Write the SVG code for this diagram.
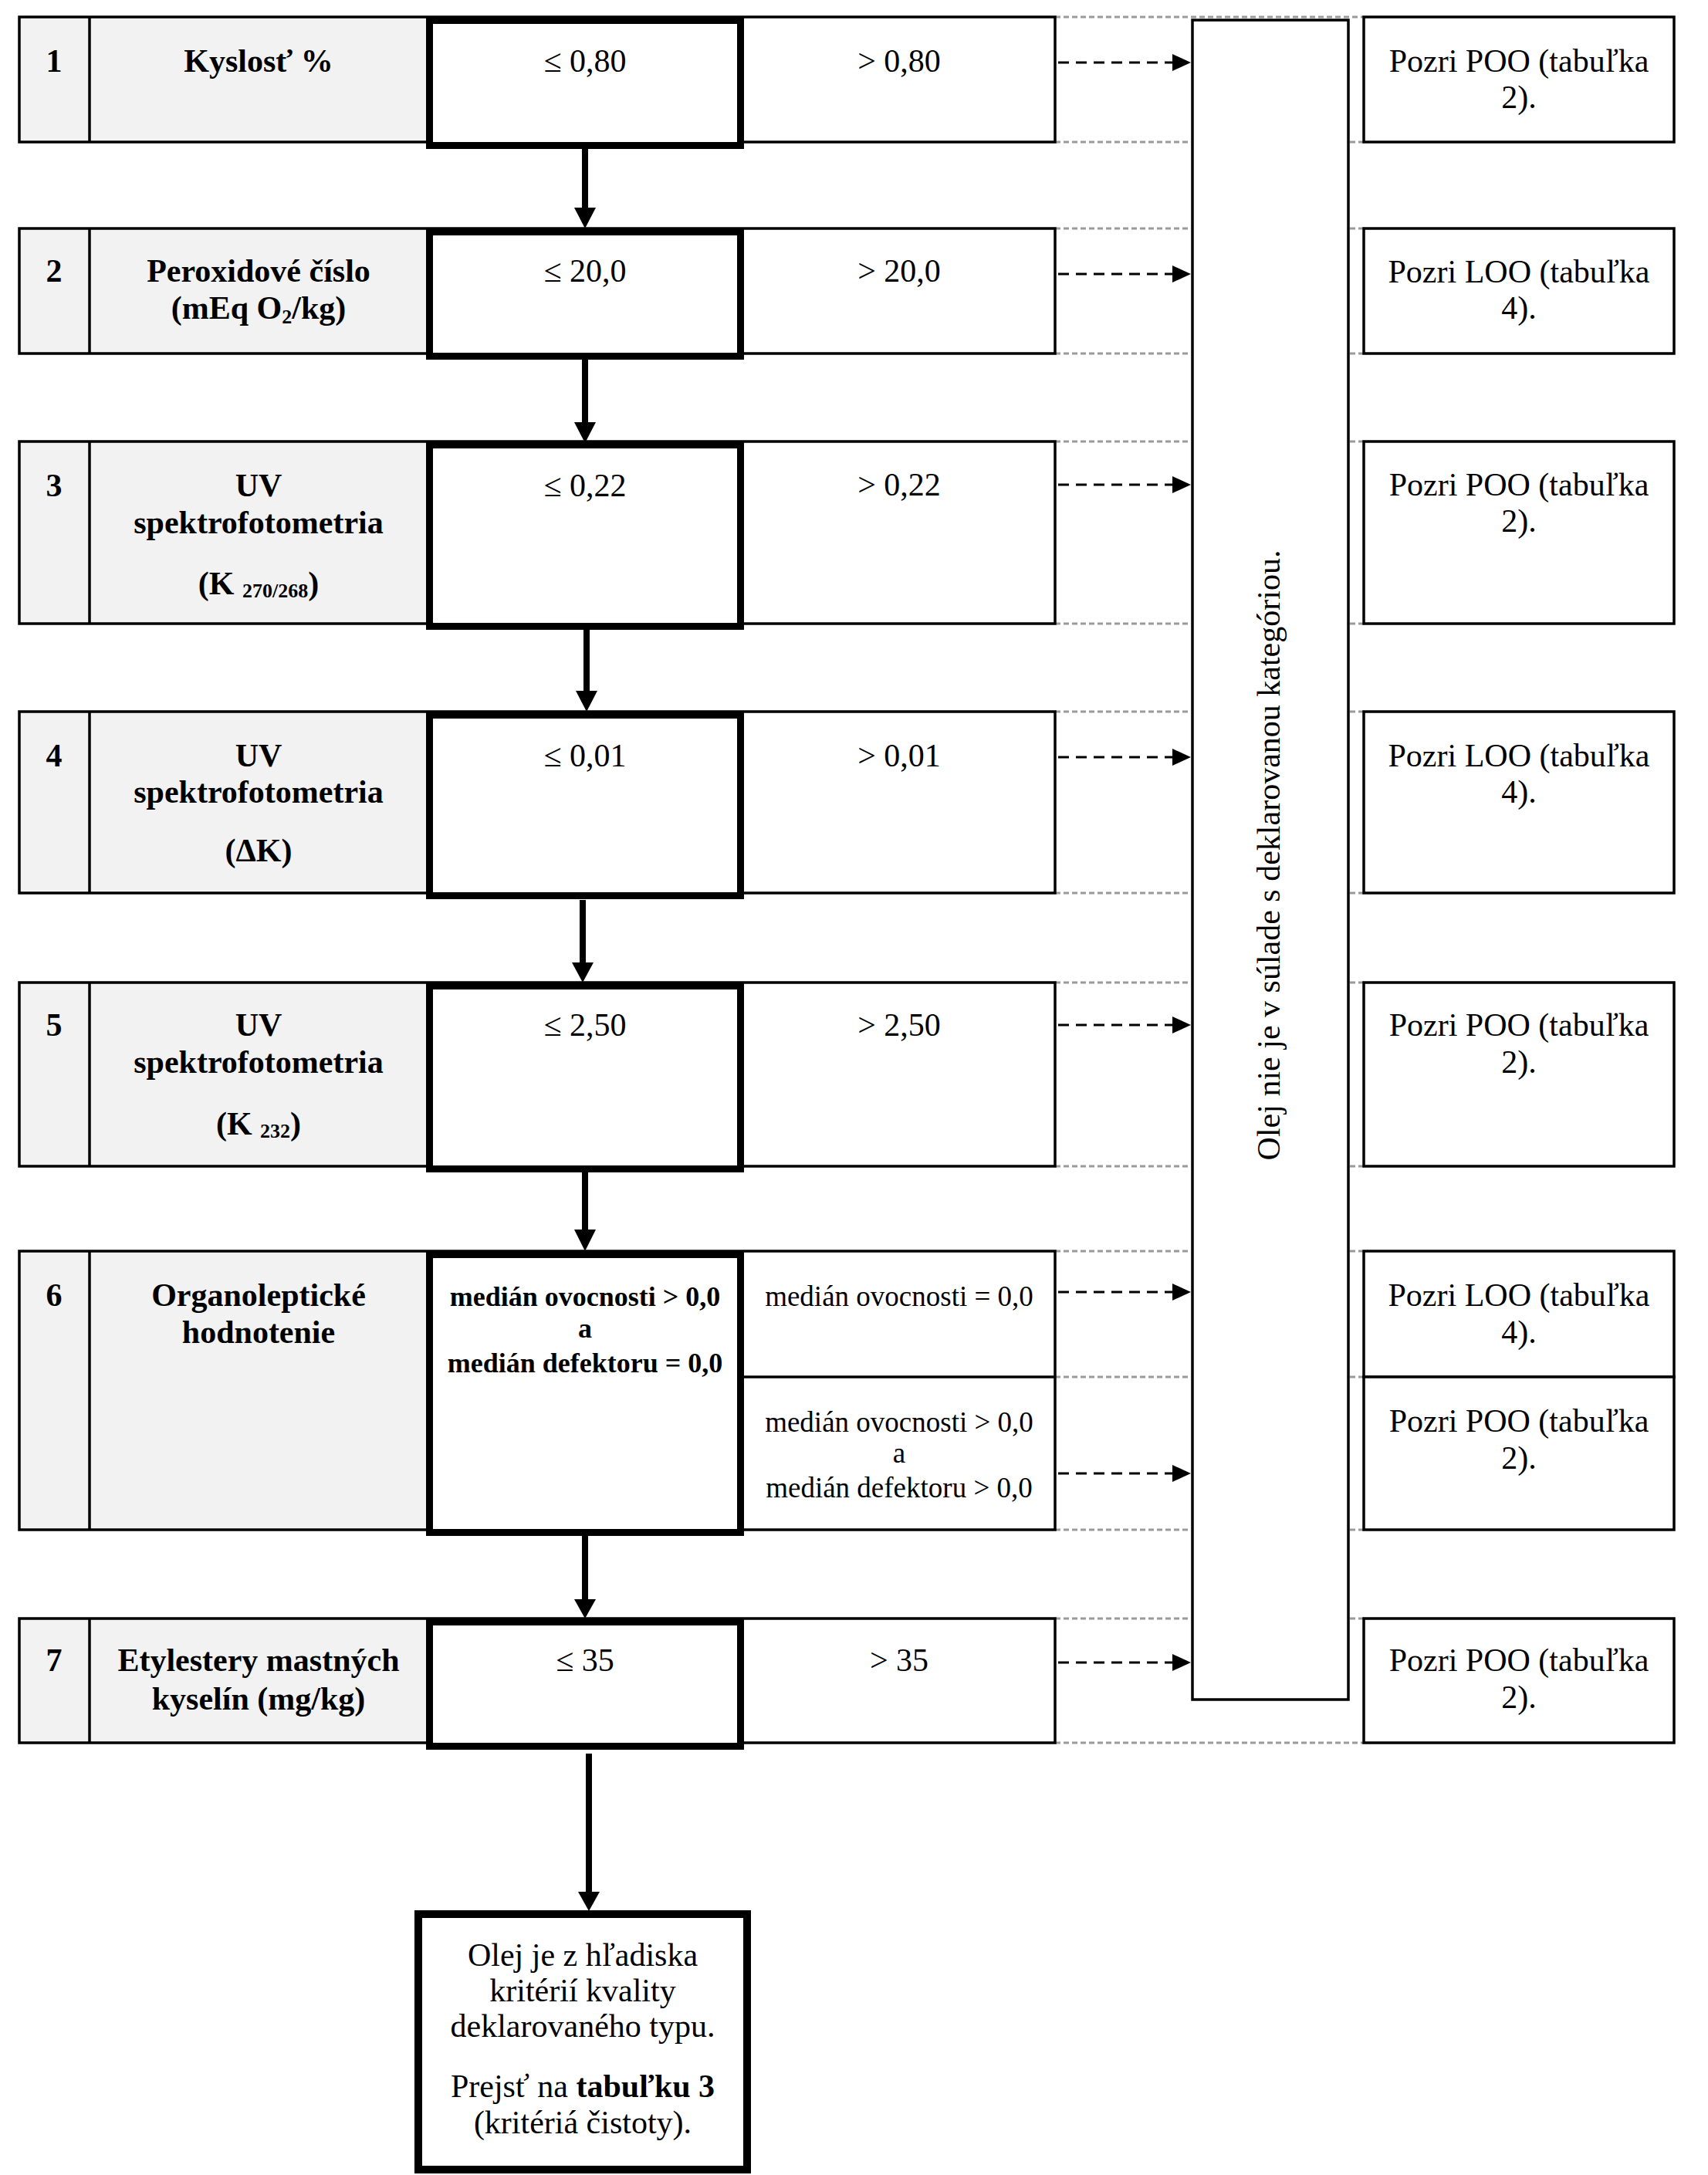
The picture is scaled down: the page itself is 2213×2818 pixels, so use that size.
<svg xmlns="http://www.w3.org/2000/svg" width="2213" height="2818" viewBox="0 0 2213 2818">
<style>
text { font-family: "Liberation Serif", "Times New Roman", serif; text-anchor: middle; fill: #000; }
.b { font-size: 42px; font-weight: bold; }
.r { font-size: 42px; }
.b36 { font-size: 36px; font-weight: bold; }
.r37 { font-size: 37px; }
.sub { font-size: 26px; }
.gray { fill: #f2f2f2; stroke: none; }
.thin { fill: none; stroke: #000; stroke-width: 3.5; }
.box { fill: #fff; stroke: #000; stroke-width: 3.5; }
.thick { fill: #fff; stroke: #000; stroke-width: 9; }
.final { fill: #fff; stroke: #000; stroke-width: 10; }
.dot { stroke: #9a9a9a; stroke-width: 3; stroke-dasharray: 7 4; fill: none; }
.dash { stroke: #000; stroke-width: 3; stroke-dasharray: 14 9; fill: none; }
.solid { stroke: #000; stroke-width: 8; fill: none; }
.head { fill: #000; stroke: none; }
</style>
<rect x="0" y="0" width="2213" height="2818" fill="#fff"/>

<!-- gray dotted table borders -->
<g id="table-borders">
<line class="dot" x1="1367" y1="22" x2="1767" y2="22"/>
<line class="dot" x1="1367" y1="184" x2="1543" y2="184"/><line class="dot" x1="1749" y1="184" x2="1767" y2="184"/>
<line class="dot" x1="1367" y1="296" x2="1543" y2="296"/><line class="dot" x1="1749" y1="296" x2="1767" y2="296"/>
<line class="dot" x1="1367" y1="458" x2="1543" y2="458"/><line class="dot" x1="1749" y1="458" x2="1767" y2="458"/>
<line class="dot" x1="1367" y1="572" x2="1543" y2="572"/><line class="dot" x1="1749" y1="572" x2="1767" y2="572"/>
<line class="dot" x1="1367" y1="808" x2="1543" y2="808"/><line class="dot" x1="1749" y1="808" x2="1767" y2="808"/>
<line class="dot" x1="1367" y1="922" x2="1543" y2="922"/><line class="dot" x1="1749" y1="922" x2="1767" y2="922"/>
<line class="dot" x1="1367" y1="1157" x2="1543" y2="1157"/><line class="dot" x1="1749" y1="1157" x2="1767" y2="1157"/>
<line class="dot" x1="1367" y1="1273" x2="1543" y2="1273"/><line class="dot" x1="1749" y1="1273" x2="1767" y2="1273"/>
<line class="dot" x1="1367" y1="1511" x2="1543" y2="1511"/><line class="dot" x1="1749" y1="1511" x2="1767" y2="1511"/>
<line class="dot" x1="1367" y1="1621" x2="1543" y2="1621"/><line class="dot" x1="1749" y1="1621" x2="1767" y2="1621"/>
<line class="dot" x1="1367" y1="1784" x2="1543" y2="1784"/><line class="dot" x1="1749" y1="1784" x2="1767" y2="1784"/>
<line class="dot" x1="1367" y1="1982" x2="1543" y2="1982"/><line class="dot" x1="1749" y1="1982" x2="1767" y2="1982"/>
<line class="dot" x1="1367" y1="2097" x2="1543" y2="2097"/><line class="dot" x1="1749" y1="2097" x2="1767" y2="2097"/>
<line class="dot" x1="1367" y1="2258" x2="1767" y2="2258"/>
</g>

<!-- tall box -->
<g id="not-compliant">
<rect class="box" x="1545" y="26" width="202" height="2176"/>
<text class="r" transform="translate(1658 1108) rotate(-90)">Olej nie je v súlade s deklarovanou kategóriou.</text>
</g>

<!-- Row 1 -->
<g id="row1">
<rect class="gray" x="25" y="22" width="527" height="162"/>
<rect class="thin" x="25" y="22" width="1342" height="162"/>
<line class="thin" x1="116" y1="22" x2="116" y2="184"/>
<text class="b" x="70" y="93">1</text>
<text class="b" x="335" y="93">Kyslosť %</text>
</g>
<g id="row1-pass"><rect class="thick" x="556.5" y="26.5" width="403" height="162"/><text class="r" x="758" y="93">≤ 0,80</text></g>
<g id="row1-fail"><text class="r" x="1165" y="93">&gt; 0,80</text></g>
<g id="row1-ref"><rect class="box" x="1767" y="22" width="402" height="162"/><text class="r" x="1968" y="93">Pozri POO (tabuľka</text><text class="r" x="1968" y="140">2).</text></g>

<!-- Row 2 -->
<g id="row2">
<rect class="gray" x="25" y="296" width="527" height="162"/>
<rect class="thin" x="25" y="296" width="1342" height="162"/>
<line class="thin" x1="116" y1="296" x2="116" y2="458"/>
<text class="b" x="70" y="365">2</text>
<text class="b" x="335" y="365">Peroxidové číslo</text>
<text class="b" x="335" y="413">(mEq O<tspan class="sub" dy="6">2</tspan><tspan dy="-6">/kg)</tspan></text>
</g>
<g id="row2-pass"><rect class="thick" x="556.5" y="300.5" width="403" height="161"/><text class="r" x="758" y="365">≤ 20,0</text></g>
<g id="row2-fail"><text class="r" x="1165" y="365">&gt; 20,0</text></g>
<g id="row2-ref"><rect class="box" x="1767" y="296" width="402" height="162"/><text class="r" x="1968" y="366">Pozri LOO (tabuľka</text><text class="r" x="1968" y="413">4).</text></g>

<!-- Row 3 -->
<g id="row3">
<rect class="gray" x="25" y="572" width="527" height="236"/>
<rect class="thin" x="25" y="572" width="1342" height="236"/>
<line class="thin" x1="116" y1="572" x2="116" y2="808"/>
<text class="b" x="70" y="643">3</text>
<text class="b" x="335" y="643">UV</text>
<text class="b" x="335" y="691">spektrofotometria</text>
<text class="b" x="335" y="770">(K <tspan class="sub" dy="4">270/268</tspan><tspan dy="-4">)</tspan></text>
</g>
<g id="row3-pass"><rect class="thick" x="556.5" y="576.5" width="403" height="235"/><text class="r" x="758" y="643">≤ 0,22</text></g>
<g id="row3-fail"><text class="r" x="1165" y="642">&gt; 0,22</text></g>
<g id="row3-ref"><rect class="box" x="1767" y="572" width="402" height="236"/><text class="r" x="1968" y="642">Pozri POO (tabuľka</text><text class="r" x="1968" y="689">2).</text></g>

<!-- Row 4 -->
<g id="row4">
<rect class="gray" x="25" y="922" width="527" height="235"/>
<rect class="thin" x="25" y="922" width="1342" height="235"/>
<line class="thin" x1="116" y1="922" x2="116" y2="1157"/>
<text class="b" x="70" y="993">4</text>
<text class="b" x="335" y="993">UV</text>
<text class="b" x="335" y="1040">spektrofotometria</text>
<text class="b" x="335" y="1116">(ΔK)</text>
</g>
<g id="row4-pass"><rect class="thick" x="556.5" y="926.5" width="403" height="234"/><text class="r" x="758" y="993">≤ 0,01</text></g>
<g id="row4-fail"><text class="r" x="1165" y="993">&gt; 0,01</text></g>
<g id="row4-ref"><rect class="box" x="1767" y="922" width="402" height="235"/><text class="r" x="1968" y="993">Pozri LOO (tabuľka</text><text class="r" x="1968" y="1040">4).</text></g>

<!-- Row 5 -->
<g id="row5">
<rect class="gray" x="25" y="1273" width="527" height="238"/>
<rect class="thin" x="25" y="1273" width="1342" height="238"/>
<line class="thin" x1="116" y1="1273" x2="116" y2="1511"/>
<text class="b" x="70" y="1342">5</text>
<text class="b" x="335" y="1342">UV</text>
<text class="b" x="335" y="1390">spektrofotometria</text>
<text class="b" x="335" y="1470">(K <tspan class="sub" dy="4">232</tspan><tspan dy="-4">)</tspan></text>
</g>
<g id="row5-pass"><rect class="thick" x="556.5" y="1277.5" width="403" height="237"/><text class="r" x="758" y="1342">≤ 2,50</text></g>
<g id="row5-fail"><text class="r" x="1165" y="1342">&gt; 2,50</text></g>
<g id="row5-ref"><rect class="box" x="1767" y="1273" width="402" height="238"/><text class="r" x="1968" y="1342">Pozri POO (tabuľka</text><text class="r" x="1968" y="1390">2).</text></g>

<!-- Row 6 -->
<g id="row6">
<rect class="gray" x="25" y="1621" width="527" height="361"/>
<rect class="thin" x="25" y="1621" width="1342" height="361"/>
<line class="thin" x1="116" y1="1621" x2="116" y2="1982"/>
<line class="thin" x1="964" y1="1784" x2="1367" y2="1784"/>
<text class="b" x="70" y="1692">6</text>
<text class="b" x="335" y="1692">Organoleptické</text>
<text class="b" x="335" y="1740">hodnotenie</text>
</g>
<g id="row6-pass"><rect class="thick" x="556.5" y="1625.5" width="403" height="360"/>
<text class="b36" x="758" y="1692">medián ovocnosti &gt; 0,0</text>
<text class="b36" x="758" y="1733">a</text>
<text class="b36" x="758" y="1778">medián defektoru = 0,0</text></g>
<g id="row6-fail1"><text class="r37" x="1165" y="1692">medián ovocnosti = 0,0</text></g>
<g id="row6-fail2"><text class="r37" x="1165" y="1855">medián ovocnosti &gt; 0,0</text><text class="r37" x="1165" y="1895">a</text><text class="r37" x="1165" y="1940">medián defektoru &gt; 0,0</text></g>
<g id="row6-ref1"><rect class="box" x="1767" y="1621" width="402" height="163"/><text class="r" x="1968" y="1692">Pozri LOO (tabuľka</text><text class="r" x="1968" y="1740">4).</text></g>
<g id="row6-ref2"><rect class="box" x="1767" y="1784" width="402" height="198"/><text class="r" x="1968" y="1855">Pozri POO (tabuľka</text><text class="r" x="1968" y="1903">2).</text></g>

<!-- Row 7 -->
<g id="row7">
<rect class="gray" x="25" y="2097" width="527" height="161"/>
<rect class="thin" x="25" y="2097" width="1342" height="161"/>
<line class="thin" x1="116" y1="2097" x2="116" y2="2258"/>
<text class="b" x="70" y="2165">7</text>
<text class="b" x="335" y="2165">Etylestery mastných</text>
<text class="b" x="335" y="2215">kyselín (mg/kg)</text>
</g>
<g id="row7-pass"><rect class="thick" x="556.5" y="2101.5" width="403" height="161"/><text class="r" x="758" y="2165">≤ 35</text></g>
<g id="row7-fail"><text class="r" x="1165" y="2165">&gt; 35</text></g>
<g id="row7-ref"><rect class="box" x="1767" y="2097" width="402" height="161"/><text class="r" x="1968" y="2165">Pozri POO (tabuľka</text><text class="r" x="1968" y="2213">2).</text></g>

<!-- Final -->
<g id="final">
<rect class="final" x="542" y="2480" width="426" height="331"/>
<text class="r" x="755" y="2547">Olej je z hľadiska</text>
<text class="r" x="755" y="2593">kritérií kvality</text>
<text class="r" x="755" y="2639">deklarovaného typu.</text>
<text class="r" x="755" y="2717">Prejsť na <tspan font-weight="bold">tabuľku 3</tspan></text>
<text class="r" x="755" y="2764">(kritériá čistoty).</text>
</g>

<!-- Connectors -->
<g id="connectors">
<line class="solid" x1="758" y1="193" x2="758" y2="272"/><polygon class="head" points="744,269 772,269 758,296"/>
<line class="solid" x1="758" y1="466" x2="758" y2="550"/><polygon class="head" points="744,547 772,547 758,574"/>
<line class="solid" x1="760" y1="816" x2="760" y2="898"/><polygon class="head" points="746,895 774,895 760,922"/>
<line class="solid" x1="755" y1="1166" x2="755" y2="1250"/><polygon class="head" points="741,1247 769,1247 755,1273"/>
<line class="solid" x1="758" y1="1519" x2="758" y2="1596"/><polygon class="head" points="744,1593 772,1593 758,1621"/>
<line class="solid" x1="758" y1="1990" x2="758" y2="2075"/><polygon class="head" points="744,2072 772,2072 758,2097"/>
<line class="solid" x1="763" y1="2272" x2="763" y2="2454"/><polygon class="head" points="749,2451 777,2451 763,2476"/>

<line class="dash" x1="1371" y1="81" x2="1521" y2="81"/><polygon class="head" points="1519,70 1543,81 1519,92"/>
<line class="dash" x1="1371" y1="355" x2="1521" y2="355"/><polygon class="head" points="1519,344 1543,355 1519,366"/>
<line class="dash" x1="1371" y1="628" x2="1521" y2="628"/><polygon class="head" points="1519,617 1543,628 1519,639"/>
<line class="dash" x1="1371" y1="981" x2="1521" y2="981"/><polygon class="head" points="1519,970 1543,981 1519,992"/>
<line class="dash" x1="1371" y1="1328" x2="1521" y2="1328"/><polygon class="head" points="1519,1317 1543,1328 1519,1339"/>
<line class="dash" x1="1371" y1="1674" x2="1521" y2="1674"/><polygon class="head" points="1519,1663 1543,1674 1519,1685"/>
<line class="dash" x1="1371" y1="1909" x2="1521" y2="1909"/><polygon class="head" points="1519,1898 1543,1909 1519,1920"/>
<line class="dash" x1="1371" y1="2154" x2="1521" y2="2154"/><polygon class="head" points="1519,2143 1543,2154 1519,2165"/>
</g>
</svg>
